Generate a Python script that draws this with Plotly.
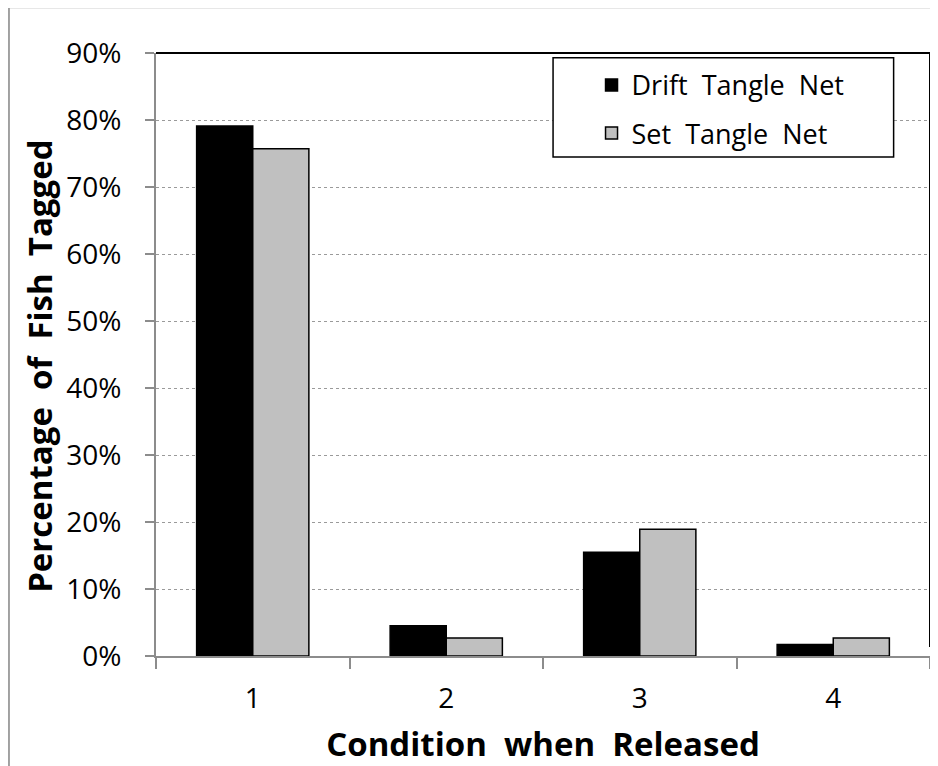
import plotly.graph_objects as go

categories = ["1", "2", "3", "4"]
drift_tangle = [0.791, 0.045, 0.155, 0.017]
set_tangle = [0.757, 0.027, 0.189, 0.027]

FONT = "Open Sans"

fig = go.Figure()
fig.add_trace(go.Bar(
    x=categories, y=drift_tangle, name="Drift  Tangle  Net",
    marker=dict(color="black", line=dict(color="black", width=1.5)),
    legendgroup="a",
))
fig.add_trace(go.Bar(
    x=categories, y=set_tangle, name="Set  Tangle  Net",
    marker=dict(color="#c0c0c0", line=dict(color="black", width=1.5)),
    legendgroup="b",
))

# page body has an 8px margin, so the figure is 8px smaller than the window
fig.update_layout(
    width=930, height=758,
    margin=dict(l=148, r=8, t=45, b=110),
    paper_bgcolor="white", plot_bgcolor="white",
    font=dict(family=FONT, size=28, color="black"),
    barmode="group", bargap=0.42, bargroupgap=0,
    legend=dict(
        x=0.5627, y=0.987, xanchor="left", yanchor="top",
        borderwidth=0, bgcolor="rgba(0,0,0,0)",
        font=dict(size=27), traceorder="grouped", tracegroupgap=10,
    ),
    showlegend=True,
)
fig.update_xaxes(
    type="category", showline=True, linecolor="#8c8c8c", linewidth=2,
    ticks="outside", tickson="boundaries", ticklen=11, tickcolor="#8c8c8c",
    tickwidth=2, ticklabelstandoff=16, showgrid=False, automargin=False,
    title=dict(text="Condition  when  Released", standoff=22,
               font=dict(size=33, weight="bold")),
)
fig.update_yaxes(
    range=[0, 0.9], dtick=0.1, tickformat=".0%",
    showline=True, linecolor="#8c8c8c", linewidth=2,
    ticks="outside", ticklen=9, tickcolor="#8c8c8c", tickwidth=2,
    ticklabelstandoff=18, automargin=False,
    showgrid=True, gridcolor="#9a9a9a", griddash="dot", gridwidth=1,
    zeroline=False,
)

# y title sits a little below the plot centre in the original
fig.add_annotation(
    text="Percentage  of  Fish  Tagged", textangle=-90,
    xref="paper", yref="paper", x=-0.15, y=0.481,
    xanchor="center", yanchor="middle",
    showarrow=False, font=dict(size=33, weight="bold"),
)

# plot area top and right border
fig.add_shape(type="line", xref="paper", yref="paper", x0=0, x1=1, y0=1, y1=1,
              line=dict(color="black", width=2))
fig.add_shape(type="line", xref="paper", yref="paper", x0=1, x1=1, y0=0.015, y1=1,
              line=dict(color="black", width=2))
# legend box
fig.add_shape(type="rect", xref="paper", yref="paper", x0=0.513, x1=0.953,
              y0=0.8275, y1=0.992, fillcolor="white",
              line=dict(color="black", width=1.5))
# outer chart border
fig.add_shape(type="rect", xref="paper", yref="paper", x0=-0.19, x1=1.03,
              y0=-0.25, y1=1.076, line=dict(color="#a0a0a0", width=2))

fig.write_html("out.html")
